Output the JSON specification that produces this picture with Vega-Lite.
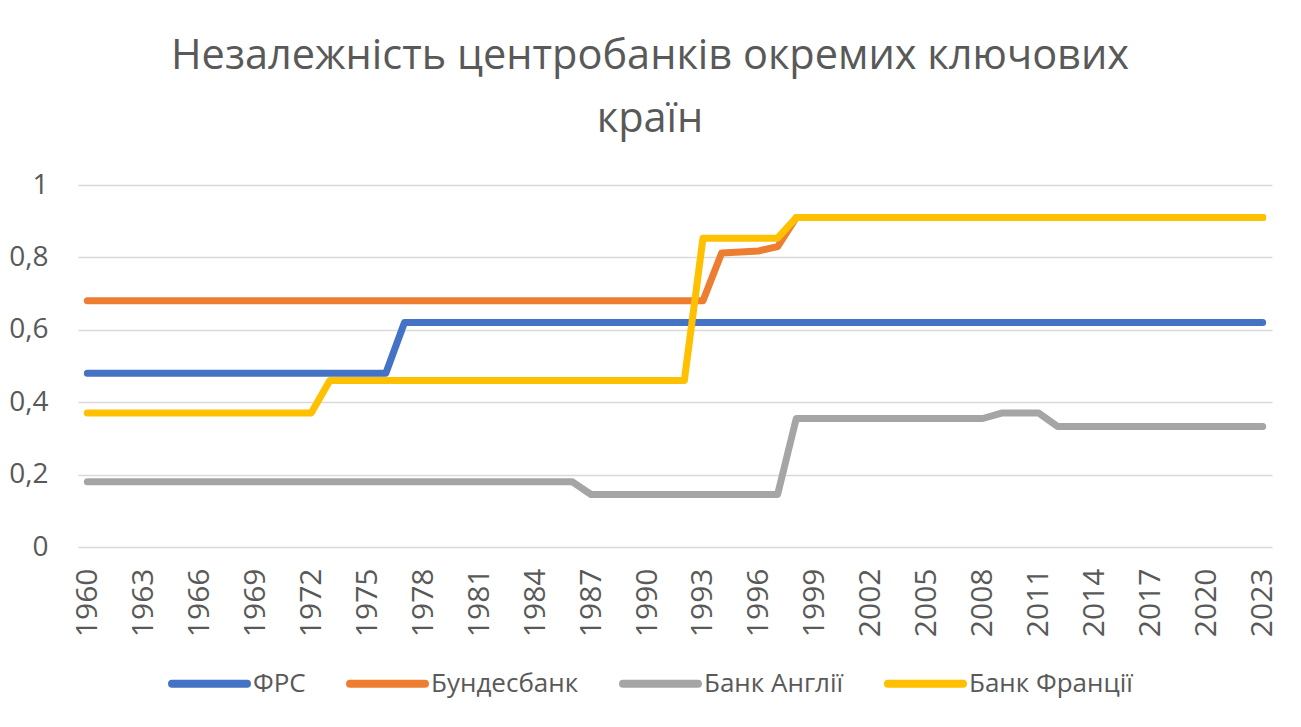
{
  "$schema": "https://vega.github.io/schema/vega-lite/v6.json",
  "width": 1194,
  "height": 362,
  "autosize": {"type": "none"},
  "padding": {"left": 78, "top": 185, "right": 29, "bottom": 180},
  "background": "white",
  "config": {"view": {"stroke": null}, "font": "Open Sans"},
  "title": {
    "text": ["Незалежність центробанків окремих ключових", "країн"],
    "fontSize": 41.5,
    "font": "Open Sans",
    "fontWeight": "normal",
    "color": "#595959",
    "anchor": "middle",
    "frame": "group",
    "dx": -25,
    "offset": 31,
    "lineHeight": 63
  },
  "data": {
    "values": [
      {"year": 1960, "ФРС": 0.48, "Бундесбанк": 0.68, "Банк Англії": 0.18, "Банк Франції": 0.37},
      {"year": 1961, "ФРС": 0.48, "Бундесбанк": 0.68, "Банк Англії": 0.18, "Банк Франції": 0.37},
      {"year": 1962, "ФРС": 0.48, "Бундесбанк": 0.68, "Банк Англії": 0.18, "Банк Франції": 0.37},
      {"year": 1963, "ФРС": 0.48, "Бундесбанк": 0.68, "Банк Англії": 0.18, "Банк Франції": 0.37},
      {"year": 1964, "ФРС": 0.48, "Бундесбанк": 0.68, "Банк Англії": 0.18, "Банк Франції": 0.37},
      {"year": 1965, "ФРС": 0.48, "Бундесбанк": 0.68, "Банк Англії": 0.18, "Банк Франції": 0.37},
      {"year": 1966, "ФРС": 0.48, "Бундесбанк": 0.68, "Банк Англії": 0.18, "Банк Франції": 0.37},
      {"year": 1967, "ФРС": 0.48, "Бундесбанк": 0.68, "Банк Англії": 0.18, "Банк Франції": 0.37},
      {"year": 1968, "ФРС": 0.48, "Бундесбанк": 0.68, "Банк Англії": 0.18, "Банк Франції": 0.37},
      {"year": 1969, "ФРС": 0.48, "Бундесбанк": 0.68, "Банк Англії": 0.18, "Банк Франції": 0.37},
      {"year": 1970, "ФРС": 0.48, "Бундесбанк": 0.68, "Банк Англії": 0.18, "Банк Франції": 0.37},
      {"year": 1971, "ФРС": 0.48, "Бундесбанк": 0.68, "Банк Англії": 0.18, "Банк Франції": 0.37},
      {"year": 1972, "ФРС": 0.48, "Бундесбанк": 0.68, "Банк Англії": 0.18, "Банк Франції": 0.37},
      {"year": 1973, "ФРС": 0.48, "Бундесбанк": 0.68, "Банк Англії": 0.18, "Банк Франції": 0.46},
      {"year": 1974, "ФРС": 0.48, "Бундесбанк": 0.68, "Банк Англії": 0.18, "Банк Франції": 0.46},
      {"year": 1975, "ФРС": 0.48, "Бундесбанк": 0.68, "Банк Англії": 0.18, "Банк Франції": 0.46},
      {"year": 1976, "ФРС": 0.48, "Бундесбанк": 0.68, "Банк Англії": 0.18, "Банк Франції": 0.46},
      {"year": 1977, "ФРС": 0.62, "Бундесбанк": 0.68, "Банк Англії": 0.18, "Банк Франції": 0.46},
      {"year": 1978, "ФРС": 0.62, "Бундесбанк": 0.68, "Банк Англії": 0.18, "Банк Франції": 0.46},
      {"year": 1979, "ФРС": 0.62, "Бундесбанк": 0.68, "Банк Англії": 0.18, "Банк Франції": 0.46},
      {"year": 1980, "ФРС": 0.62, "Бундесбанк": 0.68, "Банк Англії": 0.18, "Банк Франції": 0.46},
      {"year": 1981, "ФРС": 0.62, "Бундесбанк": 0.68, "Банк Англії": 0.18, "Банк Франції": 0.46},
      {"year": 1982, "ФРС": 0.62, "Бундесбанк": 0.68, "Банк Англії": 0.18, "Банк Франції": 0.46},
      {"year": 1983, "ФРС": 0.62, "Бундесбанк": 0.68, "Банк Англії": 0.18, "Банк Франції": 0.46},
      {"year": 1984, "ФРС": 0.62, "Бундесбанк": 0.68, "Банк Англії": 0.18, "Банк Франції": 0.46},
      {"year": 1985, "ФРС": 0.62, "Бундесбанк": 0.68, "Банк Англії": 0.18, "Банк Франції": 0.46},
      {"year": 1986, "ФРС": 0.62, "Бундесбанк": 0.68, "Банк Англії": 0.18, "Банк Франції": 0.46},
      {"year": 1987, "ФРС": 0.62, "Бундесбанк": 0.68, "Банк Англії": 0.145, "Банк Франції": 0.46},
      {"year": 1988, "ФРС": 0.62, "Бундесбанк": 0.68, "Банк Англії": 0.145, "Банк Франції": 0.46},
      {"year": 1989, "ФРС": 0.62, "Бундесбанк": 0.68, "Банк Англії": 0.145, "Банк Франції": 0.46},
      {"year": 1990, "ФРС": 0.62, "Бундесбанк": 0.68, "Банк Англії": 0.145, "Банк Франції": 0.46},
      {"year": 1991, "ФРС": 0.62, "Бундесбанк": 0.68, "Банк Англії": 0.145, "Банк Франції": 0.46},
      {"year": 1992, "ФРС": 0.62, "Бундесбанк": 0.68, "Банк Англії": 0.145, "Банк Франції": 0.46},
      {"year": 1993, "ФРС": 0.62, "Бундесбанк": 0.68, "Банк Англії": 0.145, "Банк Франції": 0.853},
      {"year": 1994, "ФРС": 0.62, "Бундесбанк": 0.812, "Банк Англії": 0.145, "Банк Франції": 0.853},
      {"year": 1995, "ФРС": 0.62, "Бундесбанк": 0.815, "Банк Англії": 0.145, "Банк Франції": 0.853},
      {"year": 1996, "ФРС": 0.62, "Бундесбанк": 0.818, "Банк Англії": 0.145, "Банк Франції": 0.853},
      {"year": 1997, "ФРС": 0.62, "Бундесбанк": 0.83, "Банк Англії": 0.145, "Банк Франції": 0.853},
      {"year": 1998, "ФРС": 0.62, "Бундесбанк": 0.91, "Банк Англії": 0.355, "Банк Франції": 0.91},
      {"year": 1999, "ФРС": 0.62, "Бундесбанк": 0.91, "Банк Англії": 0.355, "Банк Франції": 0.91},
      {"year": 2000, "ФРС": 0.62, "Бундесбанк": 0.91, "Банк Англії": 0.355, "Банк Франції": 0.91},
      {"year": 2001, "ФРС": 0.62, "Бундесбанк": 0.91, "Банк Англії": 0.355, "Банк Франції": 0.91},
      {"year": 2002, "ФРС": 0.62, "Бундесбанк": 0.91, "Банк Англії": 0.355, "Банк Франції": 0.91},
      {"year": 2003, "ФРС": 0.62, "Бундесбанк": 0.91, "Банк Англії": 0.355, "Банк Франції": 0.91},
      {"year": 2004, "ФРС": 0.62, "Бундесбанк": 0.91, "Банк Англії": 0.355, "Банк Франції": 0.91},
      {"year": 2005, "ФРС": 0.62, "Бундесбанк": 0.91, "Банк Англії": 0.355, "Банк Франції": 0.91},
      {"year": 2006, "ФРС": 0.62, "Бундесбанк": 0.91, "Банк Англії": 0.355, "Банк Франції": 0.91},
      {"year": 2007, "ФРС": 0.62, "Бундесбанк": 0.91, "Банк Англії": 0.355, "Банк Франції": 0.91},
      {"year": 2008, "ФРС": 0.62, "Бундесбанк": 0.91, "Банк Англії": 0.355, "Банк Франції": 0.91},
      {"year": 2009, "ФРС": 0.62, "Бундесбанк": 0.91, "Банк Англії": 0.37, "Банк Франції": 0.91},
      {"year": 2010, "ФРС": 0.62, "Бундесбанк": 0.91, "Банк Англії": 0.37, "Банк Франції": 0.91},
      {"year": 2011, "ФРС": 0.62, "Бундесбанк": 0.91, "Банк Англії": 0.37, "Банк Франції": 0.91},
      {"year": 2012, "ФРС": 0.62, "Бундесбанк": 0.91, "Банк Англії": 0.333, "Банк Франції": 0.91},
      {"year": 2013, "ФРС": 0.62, "Бундесбанк": 0.91, "Банк Англії": 0.333, "Банк Франції": 0.91},
      {"year": 2014, "ФРС": 0.62, "Бундесбанк": 0.91, "Банк Англії": 0.333, "Банк Франції": 0.91},
      {"year": 2015, "ФРС": 0.62, "Бундесбанк": 0.91, "Банк Англії": 0.333, "Банк Франції": 0.91},
      {"year": 2016, "ФРС": 0.62, "Бундесбанк": 0.91, "Банк Англії": 0.333, "Банк Франції": 0.91},
      {"year": 2017, "ФРС": 0.62, "Бундесбанк": 0.91, "Банк Англії": 0.333, "Банк Франції": 0.91},
      {"year": 2018, "ФРС": 0.62, "Бундесбанк": 0.91, "Банк Англії": 0.333, "Банк Франції": 0.91},
      {"year": 2019, "ФРС": 0.62, "Бундесбанк": 0.91, "Банк Англії": 0.333, "Банк Франції": 0.91},
      {"year": 2020, "ФРС": 0.62, "Бундесбанк": 0.91, "Банк Англії": 0.333, "Банк Франції": 0.91},
      {"year": 2021, "ФРС": 0.62, "Бундесбанк": 0.91, "Банк Англії": 0.333, "Банк Франції": 0.91},
      {"year": 2022, "ФРС": 0.62, "Бундесбанк": 0.91, "Банк Англії": 0.333, "Банк Франції": 0.91},
      {"year": 2023, "ФРС": 0.62, "Бундесбанк": 0.91, "Банк Англії": 0.333, "Банк Франції": 0.91}
    ]
  },
  "transform": [
    {"fold": ["ФРС", "Бундесбанк", "Банк Англії", "Банк Франції"], "as": ["series", "value"]}
  ],
  "mark": {"type": "line", "strokeWidth": 7, "strokeCap": "round", "strokeJoin": "round"},
  "encoding": {
    "x": {
      "field": "year",
      "type": "ordinal",
      "scale": {"type": "point", "padding": 0.5},
      "axis": {
        "values": [1960, 1963, 1966, 1969, 1972, 1975, 1978, 1981, 1984, 1987, 1990, 1993, 1996, 1999, 2002, 2005, 2008, 2011, 2014, 2017, 2020, 2023],
        "labelAngle": -90,
        "labelFontSize": 30,
        "labelFont": "Open Sans",
        "labelColor": "#595959",
        "labelPadding": 21,
        "ticks": false,
        "domain": false,
        "grid": false,
        "title": null
      }
    },
    "y": {
      "field": "value",
      "type": "quantitative",
      "scale": {"domain": [0, 1], "nice": false, "zero": true},
      "axis": {
        "values": [0, 0.2, 0.4, 0.6, 0.8, 1],
        "labelExpr": "replace(format(datum.value, '~g'), '.', ',')",
        "labelFontSize": 28,
        "labelFont": "Open Sans",
        "labelColor": "#595959",
        "labelPadding": 30,
        "ticks": false,
        "domain": false,
        "grid": true,
        "gridColor": "#D9D9D9",
        "gridWidth": 1.5,
        "title": null
      }
    },
    "color": {
      "field": "series",
      "type": "nominal",
      "scale": {
        "domain": ["ФРС", "Бундесбанк", "Банк Англії", "Банк Франції"],
        "range": ["#4472C4", "#ED7D31", "#A5A5A5", "#FFC000"]
      },
      "legend": {
        "orient": "none",
        "legendX": 90,
        "legendY": 457,
        "direction": "horizontal",
        "title": null,
        "symbolType": "stroke",
        "symbolSize": 5625,
        "symbolStrokeWidth": 8,
        "labelFontSize": 26,
        "labelFont": "Open Sans",
        "labelColor": "#595959",
        "labelOffset": 2,
        "labelLimit": 400,
        "columnPadding": 28,
        "encode": {"symbols": {"update": {"strokeCap": {"value": "round"}}}}
      }
    }
  }
}
